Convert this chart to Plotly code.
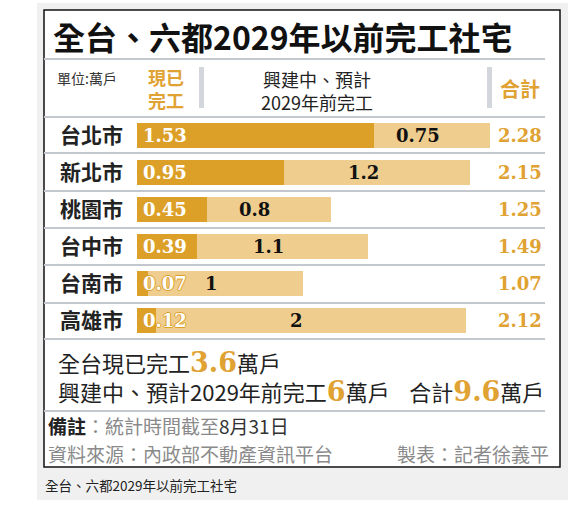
import plotly.graph_objects as go

# data
cities = ["台北市", "新北市", "桃園市", "台中市", "台南市", "高雄市"]
done = [1.53, 0.95, 0.45, 0.39, 0.07, 0.12]        # 現已完工 (萬戶)
pending = [0.75, 1.2, 0.8, 1.1, 1, 2]              # 興建中、預計2029年前完工
totals = [2.28, 2.15, 1.25, 1.49, 1.07, 2.12]      # 合計
sum_done = "3.6"
sum_pending = "6"
sum_total = "9.6"

W, H = 579, 521
CJK = "Noto Sans CJK TC"
NUM = "DejaVu Serif"
DARK = "#dc9f28"
LIGHT = "#efcd8e"
ORANGE = "#e0a232"
RULE = "#c3c8cf"


def px(x):
    return x / W


def py(y):
    return 1 - y / H


fig = go.Figure()
fig.add_trace(go.Bar(y=cities, x=done, orientation="h", marker=dict(color=DARK, line=dict(width=0)),
                     hoverinfo="skip"))
fig.add_trace(go.Bar(y=cities, x=pending, orientation="h", marker=dict(color=LIGHT, line=dict(width=0)),
                     hoverinfo="skip"))

shapes = [
    # grey page panel and the white boxed graphic
    dict(type="rect", xref="paper", yref="paper", x0=px(37), x1=px(568), y0=py(500), y1=py(3),
         fillcolor="#f0f0f0", line=dict(width=0), layer="below"),
    dict(type="rect", xref="paper", yref="paper", x0=px(44), x1=px(560), y0=py(467), y1=py(10),
         fillcolor="white", line=dict(color="#111", width=1.5), layer="below"),
    # header separators
    dict(type="rect", xref="paper", yref="paper", x0=px(199), x1=px(204), y0=py(108), y1=py(67),
         fillcolor="#d3d7dd", line=dict(width=0), layer="below"),
    dict(type="rect", xref="paper", yref="paper", x0=px(487), x1=px(492), y0=py(108), y1=py(67),
         fillcolor="#d3d7dd", line=dict(width=0), layer="below"),
]
for yy in [59, 117, 153, 191, 228, 265, 303, 339, 411]:
    shapes.append(dict(type="line", xref="paper", yref="paper", x0=px(44), x1=px(545),
                       y0=py(yy), y1=py(yy), line=dict(color=RULE, width=2), layer="below"))

ann = []


def text(x, y, s, size, color="#222", family=CJK, anchor="left", align="left"):
    ann.append(dict(x=px(x), y=py(y), xref="paper", yref="paper", text=s, showarrow=False,
                    xanchor=anchor, yanchor="middle", align=align, borderpad=0,
                    font=dict(family=family, size=size, color=color)))


text(52, 36, "<b>全台、六都2029年以前完工社宅</b>", 32, "#111")
text(56, 78, "單位:萬戶", 14, "#333")
text(147, 89, "<b>現已<br>完工</b>", 18, ORANGE)
text(317, 90, "興建中、預計<br>2029年前完工", 18, "#222", anchor="center", align="center")
text(499, 88, "<b>合計</b>", 20, ORANGE)

# numbers on the bars
for c, d, p, t in zip(cities, done, pending, totals):
    ann.append(dict(x=0, y=c, xref="x", yref="y", text=f"<b>{d:g}</b>", showarrow=False,
                    xanchor="left", xshift=4,
                    font=dict(family=NUM, size=18, color="white",
                              shadow=f"1px 0 0 {DARK}, -1px 0 0 {DARK}, 0 1px 0 {DARK}, 0 -1px 0 {DARK}")))
    ann.append(dict(x=d + p / 2, y=c, xref="x", yref="y", text=f"<b>{p:g}</b>", showarrow=False,
                    xanchor="center", xshift=-14, font=dict(family=NUM, size=18, color="#111")))
    ann.append(dict(x=px(544), y=c, xref="paper", yref="y", text=f"<b>{t:.2f}</b>", showarrow=False,
                    xanchor="right", font=dict(family=NUM, size=18, color=ORANGE)))

big = "<span style='font-family:DejaVu Serif;font-size:27px;font-weight:bold;fill:" + ORANGE + "'>{}</span>"
text(57, 376, "全台現已完工" + big.format(sum_done) + "萬戶<br>"
     + "興建中、預計2029年前完工" + big.format(sum_pending) + "萬戶&nbsp;&nbsp;&nbsp;&nbsp;合計"
     + big.format(sum_total) + "萬戶", 22)

text(47, 425, "<span style='fill:#222'><b>備註</b></span>：統計時間截至"
     + "<span style='fill:#333'>8月31日</span>", 19, "#8a8a8a")
text(47, 453, "資料來源：內政部不動產資訊平台", 19, "#8a8a8a")
text(550, 453, "製表：記者徐義平", 19, "#8a8a8a", anchor="right")
text(44, 485, "全台、六都2029年以前完工社宅", 13.5, "#222")

fig.update_layout(
    width=W, height=H, margin=dict(l=0, r=0, t=0, b=0),
    paper_bgcolor="white", plot_bgcolor="rgba(0,0,0,0)",
    barmode="stack", bargap=0.3, showlegend=False,
    shapes=shapes, annotations=ann,
    xaxis=dict(domain=[px(137), px(560)], range=[0, 423 / 155], visible=False, fixedrange=True),
    yaxis=dict(domain=[py(339), py(117)], autorange="reversed", showgrid=False, zeroline=False,
               showline=False, ticks="", ticklabelstandoff=13,
               tickfont=dict(family=CJK, size=21, color="#222", weight="bold")),
)

# the page's default 8px body margin would shift everything off the reference grid
fig.write_html("out.html", config={"displayModeBar": False},
               post_script="document.body.style.margin='0';")
